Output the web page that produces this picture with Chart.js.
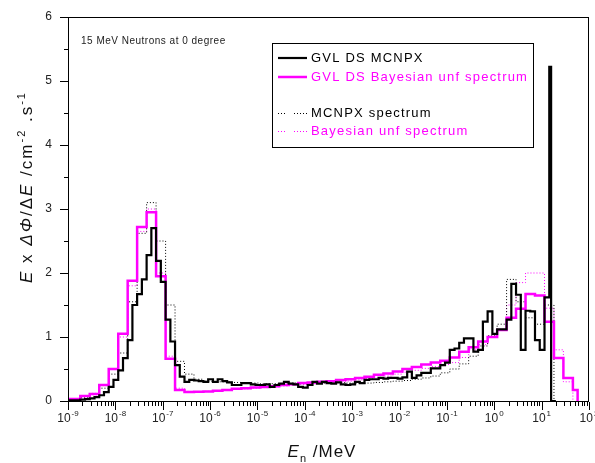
<!DOCTYPE html>
<html>
<head>
<meta charset="utf-8">
<script src="https://cdn.jsdelivr.net/npm/chart.js@4.4.1/dist/chart.umd.min.js"></script>
<style>
  html, body { margin: 0; padding: 0; background: #fff; }
  #chart { display: block; }
</style>
</head>
<body>
<canvas id="chart" width="595" height="463"></canvas>
<script>
// bin edges in MeV (0.1 decade grid for the MCNPX histograms, 0.2 decade for the unfolded ones)
const fineEdges = [
  1e-9, 1.15e-9, 1.45e-9, 1.82e-9, 2.29e-9, 2.88e-9, 3.63e-9, 4.57e-9, 5.75e-9, 7.24e-9, 9.12e-9,
  1.15e-8, 1.45e-8, 1.82e-8, 2.29e-8, 2.88e-8, 3.63e-8, 4.57e-8, 5.75e-8, 7.24e-8, 9.12e-8,
  1.15e-7, 1.45e-7, 1.82e-7, 2.29e-7, 2.88e-7, 3.63e-7, 4.57e-7, 5.75e-7, 7.24e-7, 9.12e-7,
  1.15e-6, 1.45e-6, 1.82e-6, 2.29e-6, 2.88e-6, 3.63e-6, 4.57e-6, 5.75e-6, 7.24e-6, 9.12e-6,
  1.15e-5, 1.45e-5, 1.82e-5, 2.29e-5, 2.88e-5, 3.63e-5, 4.57e-5, 5.75e-5, 7.24e-5, 9.12e-5,
  1.15e-4, 1.45e-4, 1.82e-4, 2.29e-4, 2.88e-4, 3.63e-4, 4.57e-4, 5.75e-4, 7.24e-4, 9.12e-4,
  1.15e-3, 1.45e-3, 1.82e-3, 2.29e-3, 2.88e-3, 3.63e-3, 4.57e-3, 5.75e-3, 7.24e-3, 9.12e-3,
  0.0115, 0.0145, 0.0182, 0.0229, 0.0288, 0.0363, 0.0457, 0.0575, 0.0724, 0.0912,
  0.115, 0.145, 0.182, 0.229, 0.288, 0.363, 0.457, 0.575, 0.724, 0.912,
  1.15, 1.45, 1.82, 2.29, 2.88, 3.63, 4.57, 5.75, 7.24, 9.12,
  11.5, 14.5, 15.85, 20
]
const coarseEdges = [
  1e-9, 1.82e-9, 2.88e-9, 4.57e-9, 7.24e-9,
  1.15e-8, 1.82e-8, 2.88e-8, 4.57e-8, 7.24e-8,
  1.15e-7, 1.82e-7, 2.88e-7, 4.57e-7, 7.24e-7,
  1.15e-6, 1.82e-6, 2.88e-6, 4.57e-6, 7.24e-6,
  1.15e-5, 1.82e-5, 2.88e-5, 4.57e-5, 7.24e-5,
  1.15e-4, 1.82e-4, 2.88e-4, 4.57e-4, 7.24e-4,
  1.15e-3, 1.82e-3, 2.88e-3, 4.57e-3, 7.24e-3,
  0.0115, 0.0182, 0.0288, 0.0457, 0.0724,
  0.115, 0.182, 0.288, 0.457, 0.724,
  1.15, 1.82, 2.88, 4.57, 7.24,
  11.5, 18.2, 28.8, 45.7, 57.5
]

// E x dPhi/dE values, one per bin
const gvlMcnpx = [
  0.01, 0.01, 0.01, 0.02, 0.03, 0.04, 0.06, 0.09, 0.14, 0.22,
  0.33, 0.48, 0.67, 0.95, 1.5, 1.67, 1.9, 2.28, 2.7, 2.19,
  1.86, 1.27, 0.93, 0.56, 0.38, 0.30, 0.33, 0.32, 0.31, 0.30,
  0.34, 0.30, 0.34, 0.31, 0.29, 0.25, 0.25, 0.28, 0.28, 0.26,
  0.25, 0.25, 0.26, 0.22, 0.25, 0.27, 0.30, 0.27, 0.26, 0.22,
  0.21, 0.25, 0.30, 0.27, 0.30, 0.28, 0.27, 0.29, 0.26, 0.25,
  0.26, 0.30, 0.28, 0.33, 0.34, 0.34, 0.36, 0.35, 0.36, 0.36,
  0.35, 0.37, 0.46, 0.36, 0.40, 0.44, 0.44, 0.51, 0.51, 0.56,
  0.60, 0.80, 0.82, 0.91, 0.98, 0.98, 0.77, 0.80, 1.24, 1.40,
  1.05, 1.12, 1.12, 1.27, 1.83, 1.66, 0.80, 1.41, 1.40, 0.95,
  0.80, 1.62, 5.22, 0
]
const gvlBayes = [
  0.03, 0.08, 0.11, 0.25, 0.50, 1.05, 1.88, 2.72, 2.95, 1.95, 0.66, 0.17,
  0.14, 0.145, 0.15, 0.16, 0.17, 0.19, 0.20, 0.21, 0.22, 0.23, 0.25, 0.26, 0.28, 0.29,
  0.30, 0.31, 0.33, 0.34, 0.36, 0.38, 0.41, 0.43, 0.46, 0.50, 0.53, 0.57, 0.60, 0.63,
  0.68, 0.77, 0.84, 0.93, 1.0, 1.11, 1.30, 1.44, 1.67, 1.65, 1.24, 0.67, 0.36, 0.17
]
const mcnpxSpectrum = [
  0.02, 0.05, 0.10, 0.20, 0.42, 0.75, 1.55, 2.62, 3.1, 2.5, 1.5, 0.62,
  0.42, 0.34, 0.31, 0.30, 0.30, 0.29, 0.28, 0.28, 0.27, 0.27, 0.27, 0.28, 0.27, 0.27,
  0.28, 0.28, 0.29, 0.28, 0.28, 0.28, 0.29, 0.30, 0.31, 0.32, 0.34, 0.36, 0.39, 0.44,
  0.50, 0.58, 0.70, 0.86, 1.02, 1.20, 1.90, 1.55, 1.30, 1.20, 1.50
]
const bayesSpectrum = [
  0.03, 0.07, 0.12, 0.24, 0.50, 1.0, 1.8, 2.65, 3.0, 2.0, 0.7, 0.2,
  0.15, 0.145, 0.15, 0.155, 0.165, 0.18, 0.19, 0.20, 0.21, 0.22, 0.235, 0.25, 0.26, 0.27,
  0.28, 0.29, 0.30, 0.31, 0.33, 0.35, 0.37, 0.39, 0.42, 0.45, 0.48, 0.51, 0.54, 0.57,
  0.60, 0.68, 0.80, 0.88, 1.0, 1.12, 1.50, 1.85, 2.0, 2.0, 1.45, 0.80, 0.30
]

const yTickValues = [0, 1, 2, 3, 4, 5, 6]
const xDecades = [-9, -8, -7, -6, -5, -4, -3, -2, -1, 0, 1, 2]

const FONT = '"Liberation Sans", Arial, sans-serif'
const MAGENTA = '#ff00ff'

function histogram(edges, values) {
    let pts = values.map(function(v, i) {
        return {x: edges[i], y: v}
    })
    let end = edges[values.length]
    pts.push({x: end, y: values[values.length - 1]})
    pts.push({x: end, y: 0})
    return pts
}

// draws a run of text pieces (italic / superscript / subscript) side by side
function drawParts(ctx, parts, x, y, size, center) {
    let fonts = parts.map(function(p) {
        let s = (p.sup || p.sub) ? Math.round(size * 0.65) : size
        return (p.it ? 'italic ' : '') + s + 'px ' + FONT
    })
    let widths = parts.map(function(p, i) {
        ctx.font = fonts[i]
        return ctx.measureText(p.t).width
    })
    let total = widths.reduce(function(a, b) { return a + b }, 0)
    let cx = center ? x - total / 2 : x
    parts.forEach(function(p, i) {
        ctx.font = fonts[i]
        let dy = p.sup ? -size * 0.42 : (p.sub ? size * 0.3 : 0)
        ctx.fillText(p.t, cx, y + dy)
        cx += widths[i]
    })
}

const decorations = {
    id: 'decorations',
    afterDatasetsDraw(chart) {
        const ctx = chart.ctx
        const a = chart.chartArea
        const xs = chart.scales.x
        const ys = chart.scales.y
        ctx.save()
        ctx.strokeStyle = '#000'
        ctx.lineWidth = 1

        // frame
        ctx.strokeRect(a.left + 0.5, a.top + 0.5, a.right - a.left - 1, a.bottom - a.top)

        ctx.beginPath()
        // y ticks, major and half-step minor
        yTickValues.forEach(function(v) {
            let py = Math.round(ys.getPixelForValue(v)) + 0.5
            ctx.moveTo(a.left - 8, py); ctx.lineTo(a.left, py)
            if (v < 6) {
                let pm = Math.round(ys.getPixelForValue(v + 0.5)) + 0.5
                ctx.moveTo(a.left - 4, pm); ctx.lineTo(a.left, pm)
            }
        })
        // x ticks on the log axis
        let base = a.bottom + 1
        xDecades.forEach(function(d) {
            let px = Math.round(xs.getPixelForValue(Math.pow(10, d))) + 0.5
            ctx.moveTo(px, base); ctx.lineTo(px, base + 8)
            if (d < 2) {
                for (let m = 2; m <= 9; m++) {
                    let pm = Math.round(xs.getPixelForValue(m * Math.pow(10, d))) + 0.5
                    ctx.moveTo(pm, base); ctx.lineTo(pm, base + 4)
                }
            }
        })
        ctx.stroke()

        // x tick labels 10^n
        ctx.fillStyle = '#222'
        ctx.textBaseline = 'alphabetic'
        ctx.textAlign = 'left'
        xDecades.forEach(function(d) {
            let px = xs.getPixelForValue(Math.pow(10, d))
            ctx.font = '12px ' + FONT
            let w1 = ctx.measureText('10').width
            ctx.font = '8px ' + FONT
            let w2 = ctx.measureText(String(d)).width
            let x0 = px - (w1 + w2 + 1) / 2
            ctx.font = '12px ' + FONT
            ctx.fillText('10', x0, 422)
            ctx.font = '8px ' + FONT
            ctx.fillText(String(d), x0 + w1 + 1, 416)
        })

        ctx.fillStyle = '#111'
        // axis titles
        ctx.letterSpacing = '1px'
        drawParts(ctx, [
            {t: 'E', it: true}, {t: 'n', sub: true}, {t: ' /MeV'}
        ], 322, 457, 17, true)

        ctx.letterSpacing = '2px'
        ctx.save()
        ctx.translate(32, 187)
        ctx.rotate(-Math.PI / 2)
        drawParts(ctx, [
            {t: 'E', it: true}, {t: ' x '}, {t: '\u0394\u03A6', it: true}, {t: '/\u0394'},
            {t: 'E', it: true}, {t: ' /cm'}, {t: '-2', sup: true}, {t: ' .s'}, {t: '-1', sup: true}
        ], 0, 0, 17, true)
        ctx.restore()

        // note
        ctx.letterSpacing = '0.5px'
        ctx.font = '10px ' + FONT
        ctx.fillStyle = '#222'
        ctx.textBaseline = 'middle'
        ctx.fillText('15 MeV Neutrons at 0 degree', 81, 41)

        // legend box
        ctx.letterSpacing = '1.2px'
        ctx.strokeStyle = '#000'
        ctx.lineWidth = 1
        ctx.strokeRect(272.5, 43.5, 261, 104)
        let rows = [58, 77, 113, 131]
        chart.data.datasets.forEach(function(ds, i) {
            let ry = rows[i]
            ctx.strokeStyle = ds.borderColor
            ctx.lineWidth = ds.borderWidth
            ctx.setLineDash(ds.borderDash || [])
            ctx.beginPath()
            if (ds.borderDash) {
                ctx.moveTo(278, ry + 0.5); ctx.lineTo(287, ry + 0.5)
                ctx.moveTo(294, ry + 0.5); ctx.lineTo(307, ry + 0.5)
            } else {
                ctx.moveTo(278, ry); ctx.lineTo(307, ry)
            }
            ctx.stroke()
            ctx.setLineDash([])
            ctx.fillStyle = ds.borderColor
            ctx.font = '13px ' + FONT
            ctx.fillText(ds.label, 311, ry)
        })
        ctx.restore()
    }
}

const chart = new Chart(document.getElementById('chart').getContext('2d'), {
    type: 'line',
    data: {
        datasets: [
            {
                label: 'GVL DS MCNPX',
                data: histogram(fineEdges, gvlMcnpx),
                borderColor: '#000',
                borderWidth: 2.2
            },
            {
                label: 'GVL DS Bayesian unf spectrum',
                data: histogram(coarseEdges, gvlBayes),
                borderColor: MAGENTA,
                borderWidth: 2.5
            },
            {
                label: 'MCNPX spectrum',
                data: histogram(coarseEdges, mcnpxSpectrum),
                borderColor: '#000',
                borderWidth: 1,
                borderDash: [1, 2]
            },
            {
                label: 'Bayesian unf spectrum',
                data: histogram(coarseEdges, bayesSpectrum),
                borderColor: MAGENTA,
                borderWidth: 1,
                borderDash: [1, 2]
            }
        ]
    },
    options: {
        responsive: false,
        animation: false,
        devicePixelRatio: 1,
        events: [],
        elements: {
            point: { radius: 0 },
            line: { stepped: true, tension: 0, fill: false }
        },
        layout: { padding: { top: 17, right: 6, bottom: 0, left: 0 } },
        plugins: {
            legend: { display: false },
            tooltip: { enabled: false }
        },
        scales: {
            x: {
                type: 'logarithmic',
                min: 1e-9,
                max: 100,
                grid: { display: false, drawTicks: false },
                border: { display: false },
                ticks: { display: false },
                afterFit: function(s) {
                    s.height = 62
                    s.paddingLeft = 0
                    s.paddingRight = 0
                }
            },
            y: {
                min: 0,
                max: 6,
                grid: { display: false, drawTicks: false },
                border: { display: false },
                ticks: {
                    stepSize: 1,
                    padding: 16,
                    color: '#222',
                    font: { size: 12, family: FONT }
                },
                afterFit: function(s) {
                    s.width = 68
                    s.paddingTop = 0
                    s.paddingBottom = 0
                }
            }
        }
    },
    plugins: [decorations]
})
</script>
</body>
</html>
